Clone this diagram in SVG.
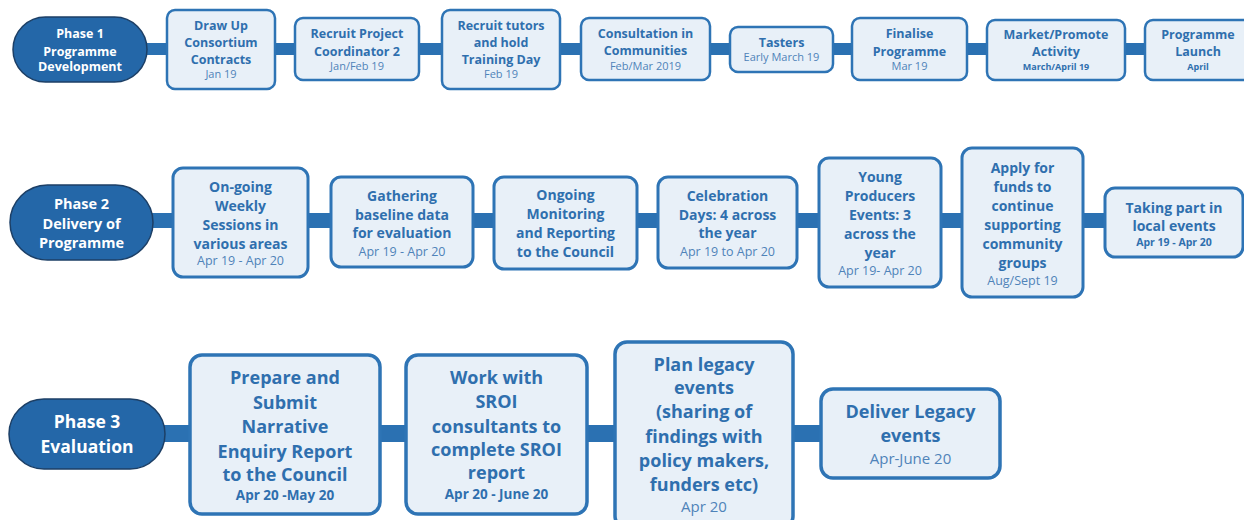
<svg xmlns="http://www.w3.org/2000/svg" width="1244" height="520" viewBox="0 0 1244 520">
  <style>
    .bar { fill: #2b71b2; }
    .pill { fill: #2467a8; stroke: #1c3f66; stroke-width: 1.5; }
    .box { fill: #e8f0f8; stroke: #2e74b5; }
    .r1 { stroke-width: 2.5; }
    .r2 { stroke-width: 3; }
    .r3 { stroke-width: 3.5; }
    text { font-family: "Open Sans", "Noto Sans", "Liberation Sans", sans-serif; text-anchor: middle; }
    .ph { fill: #ffffff; font-weight: 700; }
    .t { fill: #2f6fae; font-weight: 700; }
    .d { fill: #4f83b9; font-weight: 400; }
    .db { fill: #2f6fae; font-weight: 700; }
    .p1 { font-size: 12.5px; }
    .p2 { font-size: 14.5px; }
    .p3 { font-size: 17.5px; }
    .t1 { font-size: 12.5px; }
    .d1 { font-size: 11px; }
    .db1 { font-size: 9px; }
    .t2 { font-size: 14px; }
    .d2 { font-size: 12.5px; }
    .db2 { font-size: 10.5px; }
    .t3 { font-size: 18px; }
    .d3 { font-size: 15px; }
    .db3 { font-size: 13.5px; }
  </style>

  <!-- timeline spines behind the steps -->
  <g id="connectors">
    <rect class="bar" x="140" y="43" width="1015" height="12"/>
    <rect class="bar" x="145" y="213" width="970" height="15"/>
    <rect class="bar" x="155" y="425" width="675" height="17"/>
  </g>

  <!-- Phase 1 -->
  <g id="phase1">
    <rect class="pill" x="13" y="17" width="134" height="65" rx="32.5"/>
    <text class="ph p1" x="80" y="37.5">Phase 1</text>
    <text class="ph p1" x="80" y="55.5">Programme</text>
    <text class="ph p1" x="80" y="71">Development</text>
  </g>
  <g id="p1-contracts">
    <rect class="box r1" x="167" y="10" width="108" height="79" rx="8"/>
    <text class="t t1" x="221" y="29.5">Draw Up</text>
    <text class="t t1" x="221" y="47">Consortium</text>
    <text class="t t1" x="221" y="63.5">Contracts</text>
    <text class="d d1" x="221" y="78">Jan 19</text>
  </g>
  <g id="p1-coordinator">
    <rect class="box r1" x="295" y="18" width="124" height="62" rx="8"/>
    <text class="t t1" x="357" y="38">Recruit Project</text>
    <text class="t t1" x="357" y="56">Coordinator 2</text>
    <text class="d d1" x="357" y="70">Jan/Feb 19</text>
  </g>
  <g id="p1-tutors">
    <rect class="box r1" x="442" y="10" width="118" height="79" rx="8"/>
    <text class="t t1" x="501" y="30">Recruit tutors</text>
    <text class="t t1" x="501" y="47">and hold</text>
    <text class="t t1" x="501" y="64">Training Day</text>
    <text class="d d1" x="501" y="78">Feb 19</text>
  </g>
  <g id="p1-consultation">
    <rect class="box r1" x="581" y="18" width="129" height="62" rx="8"/>
    <text class="t t1" x="645.5" y="38">Consultation in</text>
    <text class="t t1" x="645.5" y="55">Communities</text>
    <text class="d d1" x="645.5" y="70">Feb/Mar 2019</text>
  </g>
  <g id="p1-tasters">
    <rect class="box r1" x="730" y="27" width="103" height="45" rx="8"/>
    <text class="t t1" x="781.5" y="47">Tasters</text>
    <text class="d d1" x="781.5" y="61">Early March 19</text>
  </g>
  <g id="p1-finalise">
    <rect class="box r1" x="852" y="18" width="115" height="62" rx="8"/>
    <text class="t t1" x="909.5" y="38">Finalise</text>
    <text class="t t1" x="909.5" y="56">Programme</text>
    <text class="d d1" x="909.5" y="70">Mar 19</text>
  </g>
  <g id="p1-market">
    <rect class="box r1" x="987" y="20" width="138" height="60" rx="8"/>
    <text class="t t1" x="1056" y="39">Market/Promote</text>
    <text class="t t1" x="1056" y="56">Activity</text>
    <text class="db db1" x="1056" y="69.5">March/April 19</text>
  </g>
  <g id="p1-launch">
    <rect class="box r1" x="1145" y="20" width="107" height="60" rx="8"/>
    <text class="t t1" x="1198" y="39">Programme</text>
    <text class="t t1" x="1198" y="56">Launch</text>
    <text class="db db1" x="1198" y="69.5">April</text>
  </g>

  <!-- Phase 2 -->
  <g id="phase2">
    <rect class="pill" x="10" y="185" width="143" height="75" rx="37.5"/>
    <text class="ph p2" x="81.5" y="208.5">Phase 2</text>
    <text class="ph p2" x="81.5" y="228.5">Delivery of</text>
    <text class="ph p2" x="81.5" y="247.5">Programme</text>
  </g>
  <g id="p2-sessions">
    <rect class="box r2" x="173" y="168" width="135" height="109" rx="10"/>
    <text class="t t2" x="240.5" y="191.5">On-going</text>
    <text class="t t2" x="240.5" y="210.5">Weekly</text>
    <text class="t t2" x="240.5" y="229.5">Sessions in</text>
    <text class="t t2" x="240.5" y="248.5">various areas</text>
    <text class="d d2" x="240.5" y="264.5">Apr 19 - Apr 20</text>
  </g>
  <g id="p2-baseline">
    <rect class="box r2" x="331" y="177" width="142" height="90" rx="10"/>
    <text class="t t2" x="402" y="200.5">Gathering</text>
    <text class="t t2" x="402" y="219.5">baseline data</text>
    <text class="t t2" x="402" y="237.5">for evaluation</text>
    <text class="d d2" x="402" y="255.5">Apr 19 - Apr 20</text>
  </g>
  <g id="p2-monitoring">
    <rect class="box r2" x="494" y="177" width="143" height="92" rx="10"/>
    <text class="t t2" x="565.5" y="199.5">Ongoing</text>
    <text class="t t2" x="565.5" y="218.5">Monitoring</text>
    <text class="t t2" x="565.5" y="237.5">and Reporting</text>
    <text class="t t2" x="565.5" y="256.5">to the Council</text>
  </g>
  <g id="p2-celebration">
    <rect class="box r2" x="658" y="177" width="139" height="91" rx="10"/>
    <text class="t t2" x="727.5" y="200.5">Celebration</text>
    <text class="t t2" x="727.5" y="219.5">Days: 4 across</text>
    <text class="t t2" x="727.5" y="237.5">the year</text>
    <text class="d d2" x="727.5" y="255.5">Apr 19 to Apr 20</text>
  </g>
  <g id="p2-producers">
    <rect class="box r2" x="819" y="158" width="122" height="129" rx="10"/>
    <text class="t t2" x="880" y="181.5">Young</text>
    <text class="t t2" x="880" y="200.5">Producers</text>
    <text class="t t2" x="880" y="219.5">Events: 3</text>
    <text class="t t2" x="880" y="238.5">across the</text>
    <text class="t t2" x="880" y="257.5">year</text>
    <text class="d d2" x="880" y="274.5">Apr 19- Apr 20</text>
  </g>
  <g id="p2-funds">
    <rect class="box r2" x="962" y="148" width="121" height="149" rx="10"/>
    <text class="t t2" x="1022.5" y="172.5">Apply for</text>
    <text class="t t2" x="1022.5" y="191.5">funds to</text>
    <text class="t t2" x="1022.5" y="210.5">continue</text>
    <text class="t t2" x="1022.5" y="229.5">supporting</text>
    <text class="t t2" x="1022.5" y="248.5">community</text>
    <text class="t t2" x="1022.5" y="267.5">groups</text>
    <text class="d d2" x="1022.5" y="284.5">Aug/Sept 19</text>
  </g>
  <g id="p2-local">
    <rect class="box r2" x="1105" y="188" width="138" height="69" rx="10"/>
    <text class="t t2" x="1174" y="212.5">Taking part in</text>
    <text class="t t2" x="1174" y="230.5">local events</text>
    <text class="db db2" x="1174" y="245.5">Apr 19 - Apr 20</text>
  </g>

  <!-- Phase 3 -->
  <g id="phase3">
    <rect class="pill" x="9" y="399" width="156" height="70" rx="35"/>
    <text class="ph p3" x="87" y="428">Phase 3</text>
    <text class="ph p3" x="87" y="453">Evaluation</text>
  </g>
  <g id="p3-report">
    <rect class="box r3" x="190" y="355" width="190" height="159" rx="12"/>
    <text class="t t3" x="285" y="384">Prepare and</text>
    <text class="t t3" x="285" y="409">Submit</text>
    <text class="t t3" x="285" y="433">Narrative</text>
    <text class="t t3" x="285" y="458">Enquiry Report</text>
    <text class="t t3" x="285" y="481">to the Council</text>
    <text class="db db3" x="285" y="500">Apr 20 -May 20</text>
  </g>
  <g id="p3-sroi">
    <rect class="box r3" x="406" y="355" width="181" height="159" rx="12"/>
    <text class="t t3" x="496.5" y="384">Work with</text>
    <text class="t t3" x="496.5" y="408">SROI</text>
    <text class="t t3" x="496.5" y="433">consultants to</text>
    <text class="t t3" x="496.5" y="456">complete SROI</text>
    <text class="t t3" x="496.5" y="479">report</text>
    <text class="db db3" x="496.5" y="499">Apr 20 - June 20</text>
  </g>
  <g id="p3-plan">
    <rect class="box r3" x="615" y="342" width="178" height="186" rx="12"/>
    <text class="t t3" x="704" y="371">Plan legacy</text>
    <text class="t t3" x="704" y="394">events</text>
    <text class="t t3" x="704" y="418">(sharing of</text>
    <text class="t t3" x="704" y="443">findings with</text>
    <text class="t t3" x="704" y="467">policy makers,</text>
    <text class="t t3" x="704" y="491">funders etc)</text>
    <text class="d d3" x="704" y="512">Apr 20</text>
  </g>
  <g id="p3-deliver">
    <rect class="box r3" x="821" y="389" width="179" height="89" rx="12"/>
    <text class="t t3" x="910.5" y="418">Deliver Legacy</text>
    <text class="t t3" x="910.5" y="441.5">events</text>
    <text class="d d3" x="910.5" y="464">Apr-June 20</text>
  </g>
</svg>
